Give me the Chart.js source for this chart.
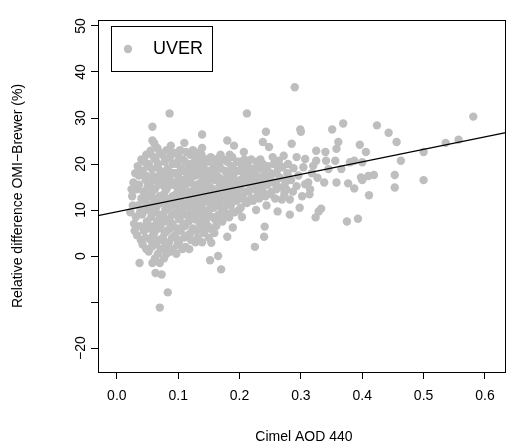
<!DOCTYPE html>
<html><head><meta charset="utf-8">
<script src="https://cdn.jsdelivr.net/npm/chart.js@4/dist/chart.umd.min.js"></script>
<style>html,body{margin:0;padding:0;background:#fff}canvas{display:block}</style>
</head><body>
<canvas id="c" width="510" height="446"></canvas>
<script>
const xTicks = [0.0,0.1,0.2,0.3,0.4,0.5,0.6];
const xTickLabels = ['0.0','0.1','0.2','0.3','0.4','0.5','0.6'];
const yTicks = [-20,-10,0,10,20,30,40,50];
const yTickLabels = ['\u221220','','0','10','20','30','40','50'];
const seriesName = 'UVER';
const fitIntercept = [9.6];
const fitSlope = [27.2];
const uverPoints = [
[0.022,9.5],[0.025,13],[0.028,7],[0.027,16],
[0.033,4.5],[0.031,8.5],[0.035,11],[0.032,14.5],[0.036,17.5],[0.034,19.5],[0.038,6.5],[0.037,-1.5],
[0.042,2.5],[0.044,5.5],[0.041,9],[0.046,12],[0.043,14],[0.047,16.5],[0.042,18.5],[0.045,20.5],[0.048,10],[0.049,7.5],
[0.052,1],[0.055,3.5],[0.051,6],[0.056,8.5],[0.053,11],[0.057,13],[0.054,15.5],[0.058,17.5],[0.052,20],[0.055,22.9],[0.058,25.1],[0.058,28.1],[0.059,4.5],
[0.062,-0.5],[0.064,2.5],[0.061,5],[0.066,7.5],[0.063,10],[0.067,12],[0.062,14.5],[0.065,16.5],[0.068,19],[0.063,21],[0.066,23.5],[0.063,-3.7],[0.069,9],
[0.070,-1.5],[0.073,-4],[0.070,-11.2],[0.072,1.5],[0.075,4],[0.071,6.5],[0.076,9],[0.073,11.5],[0.077,13.5],[0.072,16],[0.075,18],[0.078,20.5],[0.074,22],[0.079,2.5],[0.078,15],
[0.083,-7.9],[0.081,0.5],[0.085,3],[0.082,5.5],[0.086,8],[0.084,10.5],[0.088,12.5],[0.081,14.5],[0.086,17],[0.083,19],[0.087,21.5],[0.086,31],[0.089,6.5],[0.088,24],
[0.092,1.5],[0.095,4.5],[0.091,7],[0.096,9.5],[0.093,11.5],[0.097,13.5],[0.092,16],[0.095,18],[0.098,20],[0.094,22.4],[0.099,2.5],[0.098,15],
[0.101,3],[0.104,5.5],[0.102,8],[0.106,10],[0.103,12.5],[0.107,14.5],[0.101,17],[0.105,19],[0.108,21],[0.103,23],[0.109,7],[0.108,16],
[0.112,2],[0.115,4.5],[0.111,6.5],[0.116,9],[0.113,11],[0.117,13],[0.112,15.5],[0.115,17.5],[0.118,19.5],[0.113,22.6],[0.110,24.6],[0.119,11.5],
[0.121,3.5],[0.124,6],[0.122,8.5],[0.126,10.5],[0.123,13],[0.127,15],[0.121,17],[0.125,19],[0.128,21],[0.124,23],[0.129,12],
[0.132,4],[0.135,7],[0.131,9.5],[0.136,12],[0.133,14],[0.137,16],[0.132,18.5],[0.135,20.5],[0.138,22],[0.139,26.4],[0.138,10.5],
[0.142,5],[0.145,7.5],[0.141,10],[0.146,12.5],[0.143,14.5],[0.147,16.5],[0.142,19],[0.145,21],[0.148,9],[0.149,17.5],
[0.152,-0.9],[0.154,2.9],[0.151,6],[0.156,8.5],[0.153,11],[0.157,13],[0.152,15],[0.155,17],[0.158,19.5],[0.153,21.5],[0.159,12],
[0.165,0],[0.162,6.5],[0.166,9],[0.161,11.5],[0.164,13.5],[0.168,15.5],[0.163,17.5],[0.167,20],[0.169,22],[0.168,11],
[0.170,-2.9],[0.172,7.5],[0.175,10],[0.171,12.5],[0.176,14.5],[0.173,16.5],[0.177,18.5],[0.174,21],[0.178,13],
[0.180,4.2],[0.183,8.4],[0.186,11],[0.181,13.5],[0.185,15.5],[0.182,17.5],[0.187,19.5],[0.184,22],[0.180,25.1],[0.189,6.2],[0.188,14],
[0.191,24],[0.192,9.5],[0.195,12],[0.193,14],[0.197,16],[0.191,18],[0.196,20.5],[0.198,13],
[0.202,10.5],[0.205,13],[0.201,15],[0.206,17],[0.203,19],[0.207,22.6],[0.208,21],[0.204,8.5],
[0.212,31],[0.212,11.5],[0.215,14],[0.211,16],[0.216,18],[0.213,20],[0.218,15],
[0.225,2],[0.222,12],[0.226,14.5],[0.221,16.5],[0.224,18.5],[0.228,20.5],[0.227,10],
[0.232,12.5],[0.235,15],[0.231,17],[0.236,19],[0.234,21],[0.238,14],
[0.240,4.2],[0.241,6.4],[0.243,27],[0.238,24.8],[0.248,23.7],[0.242,13],[0.245,15.5],[0.241,17.5],[0.246,19.5],[0.244,11],
[0.252,14],[0.255,16],[0.251,18],[0.256,20],[0.258,12.5],[0.254,21.5],
[0.260,14.5],[0.262,9.7],[0.264,20.7],[0.266,17],[0.268,14.9],[0.263,19],[0.269,12.3],
[0.270,19.3],[0.272,21.8],[0.275,16],[0.278,18],[0.273,13.5],
[0.282,12.3],[0.282,9],[0.285,24.4],[0.288,19.1],[0.284,16.5],[0.287,14],
[0.290,36.7],[0.293,21.5],[0.293,15.2],[0.296,17.5],[0.298,10.5],[0.299,27.5],
[0.300,27],[0.304,19.3],[0.307,21.1],[0.307,15.6],[0.302,13],
[0.312,16],[0.315,14.5],[0.314,13.4],[0.318,18],
[0.320,19.6],[0.325,20.7],[0.325,22.9],[0.324,8.4],[0.329,9.7],[0.327,17],
[0.333,10.3],[0.340,22.6],[0.341,20.7],[0.345,18.9],[0.338,16],
[0.351,27.5],[0.356,20.7],[0.358,23.3],[0.358,16],[0.361,24.8],[0.366,18.9],[0.369,28.8],
[0.375,7.5],[0.377,15.8],[0.380,20.4],[0.387,20.7],[0.387,14.7],[0.393,8.1],[0.396,24.2],[0.398,17.1],
[0.400,20.4],[0.400,16.5],[0.406,22.6],[0.410,17.4],[0.411,13.2],[0.419,17.6],[0.424,28.4],[0.443,26.8],[0.453,17.6],[0.453,14.9],[0.456,24.8],[0.463,20.7],
[0.500,22.6],[0.500,16.5],[0.536,24.6],[0.557,25.3],[0.581,30.3],
[0.029,5.5],[0.026,11],[0.030,18],[0.024,14.5],
[0.039,3.5],[0.038,9.5],[0.040,12.5],[0.036,15.5],[0.039,18],[0.040,21],
[0.048,1.5],[0.047,4],[0.050,7],[0.046,10.5],[0.049,13],[0.050,15],[0.047,17.5],[0.050,19.5],[0.048,22],
[0.058,-1.5],[0.057,2],[0.060,6.5],[0.058,9.5],[0.060,12],[0.056,14],[0.060,16.5],[0.057,19],[0.060,21.5],[0.061,24.5],
[0.067,0.5],[0.069,3.5],[0.068,6],[0.070,8],[0.066,11],[0.070,13],[0.068,15.5],[0.070,17.5],[0.067,20],[0.070,22.5],
[0.077,-0.5],[0.080,2],[0.078,5],[0.080,7.5],[0.079,10],[0.081,12],[0.080,16.5],[0.080,18.5],[0.079,21],[0.081,23],
[0.088,1],[0.090,4],[0.087,6],[0.090,9],[0.089,11],[0.091,13],[0.089,15.5],[0.090,18],[0.091,20],[0.089,22.5],
[0.097,0.5],[0.100,3.5],[0.098,6],[0.100,8.5],[0.099,11],[0.101,13.5],[0.100,15.5],[0.100,18],[0.099,20.5],[0.100,22],
[0.107,1.5],[0.110,4],[0.108,6.5],[0.110,9],[0.109,11.5],[0.111,13.5],[0.110,16.5],[0.109,18.5],[0.111,20.5],
[0.118,1.5],[0.120,5],[0.117,7.5],[0.120,10],[0.119,14],[0.120,16],[0.119,18],[0.121,20],[0.120,22],
[0.128,3],[0.130,5.5],[0.127,8],[0.130,11],[0.129,13.5],[0.130,15.5],[0.128,17.5],[0.130,19.5],[0.129,22.5],
[0.139,3],[0.140,6],[0.138,8.5],[0.140,11.5],[0.139,13.5],[0.140,15.5],[0.138,17.5],[0.140,20],[0.139,23.5],
[0.150,4],[0.149,6.5],[0.150,10],[0.148,12],[0.150,14],[0.149,16],[0.150,18.5],[0.148,20.5],
[0.159,5],[0.160,8],[0.158,10.5],[0.160,12.5],[0.159,14.5],[0.160,16.5],[0.158,18.5],[0.160,21],
[0.168,8],[0.170,10.5],[0.169,13],[0.170,15],[0.167,17],[0.170,19],[0.168,21.5],
[0.179,9],[0.180,11.5],[0.178,14],[0.180,16],[0.179,18],[0.180,20.5],
[0.188,9.5],[0.190,12],[0.187,13],[0.190,15],[0.189,17],[0.190,19],[0.188,21.5],
[0.199,10],[0.200,12.5],[0.198,14.5],[0.200,16.5],[0.199,18.5],[0.200,20.5],
[0.209,12],[0.210,14],[0.208,16],[0.210,18],[0.209,19.5],
[0.219,12.5],[0.220,15],[0.218,17],[0.220,19],[0.219,21],
[0.229,13],[0.230,15.5],[0.228,17.5],[0.230,19.5],
[0.239,16],[0.240,18.5],[0.238,20],
[0.249,13.5],[0.250,17],[0.259,16],[0.260,18],
[0.276,14.5],[0.280,17],[0.279,20]
];

const X_MIN = -0.0307, X_MAX = 0.634, Y_MIN = -25.2, Y_MAX = 51.3;
const FONT = '"Liberation Sans", Arial, Helvetica, sans-serif';

const fitLine = [X_MIN, X_MAX].map(x => ({x, y: fitIntercept[0] + fitSlope[0] * x}));

const rPlugin = {
  id: 'rstyle',
  afterDraw(chart) {
    const {ctx, chartArea: a, scales} = chart;
    const y = scales.y;
    ctx.save();
    ctx.strokeStyle = '#000'; ctx.lineWidth = 1;
    ctx.strokeRect(Math.round(a.left) + 0.5, Math.round(a.top) + 0.5,
                   Math.round(a.right - a.left) - 1, Math.round(a.bottom - a.top));
    ctx.fillStyle = '#000';
    ctx.font = '14px ' + FONT;
    ctx.textAlign = 'center'; ctx.textBaseline = 'middle';
    yTicks.forEach((v, i) => {
      const py = y.getPixelForValue(v);
      ctx.save(); ctx.translate(81, py); ctx.rotate(-Math.PI / 2);
      ctx.fillText(yTickLabels[i], 0, 0); ctx.restore();
    });
    ctx.font = '14px ' + FONT;
    ctx.fillText('Cimel AOD 440', (a.left + a.right) / 2 + 2, 437);
    ctx.save(); ctx.translate(18, (a.top + a.bottom) / 2); ctx.rotate(-Math.PI / 2);
    ctx.fillText('Relative difference OMI\u2212Brewer (%)', 0, 0); ctx.restore();
    ctx.strokeRect(111.5, 26.5, 101, 45);
    ctx.fillStyle = '#BEBEBE';
    ctx.beginPath(); ctx.arc(128, 49, 4.2, 0, Math.PI * 2); ctx.fill();
    ctx.fillStyle = '#000';
    ctx.font = '18px ' + FONT;
    ctx.textAlign = 'left';
    ctx.fillText(seriesName, 153, 49.5);
    ctx.restore();
  }
};

new Chart(document.getElementById('c'), {
  type: 'scatter',
  data: {
    datasets: [
      {label: seriesName, data: uverPoints.map(p => ({x: p[0], y: p[1]})),
       backgroundColor: '#BEBEBE', borderWidth: 0, pointRadius: 4.2, order: 2},
      {type: 'line', label: 'fit', data: fitLine, borderColor: '#000', borderWidth: 1.3,
       pointRadius: 0, fill: false, order: 1}
    ]
  },
  options: {
    responsive: false, animation: false, events: [],
    layout: {padding: {left: 0, right: 1, top: 20, bottom: 0}},
    plugins: {legend: {display: false}, tooltip: {enabled: false}},
    scales: {
      x: {
        type: 'linear', min: X_MIN, max: X_MAX,
        afterBuildTicks: s => { s.ticks = xTicks.map(v => ({value: v})); },
        afterFit: s => { s.height = 74; },
        border: {display: false},
        grid: {drawOnChartArea: false, drawTicks: true, tickLength: 7, color: '#000', lineWidth: 1},
        ticks: {color: '#000', font: {size: 14, family: FONT}, padding: 9, maxRotation: 0,
                autoSkip: false, callback: (v) => { const i = xTicks.findIndex(t => Math.abs(t - v) < 1e-9); return i >= 0 ? xTickLabels[i] : ''; }}
      },
      y: {
        type: 'linear', min: Y_MIN, max: Y_MAX,
        afterBuildTicks: s => { s.ticks = yTicks.map(v => ({value: v})); },
        afterFit: s => { s.width = 98; },
        border: {display: false},
        grid: {drawOnChartArea: false, drawTicks: true, tickLength: 7, color: '#000', lineWidth: 1},
        ticks: {display: false}
      }
    }
  },
  plugins: [rPlugin]
});
</script>
</body></html>
